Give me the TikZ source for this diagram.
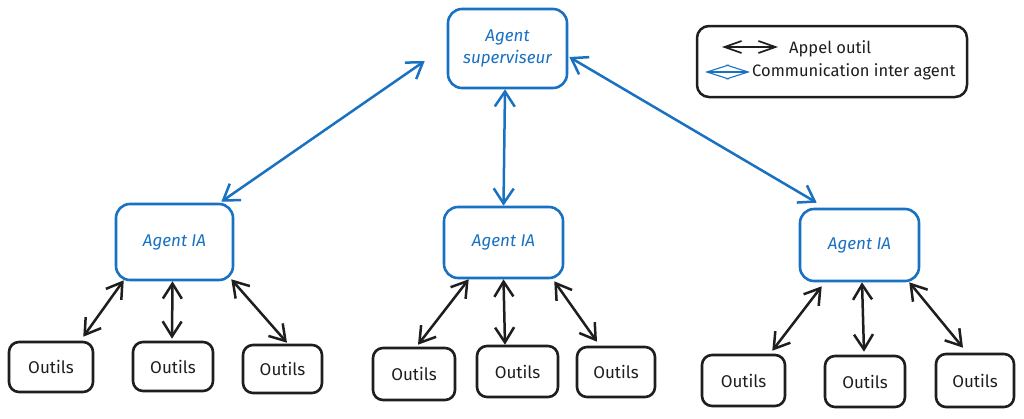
\documentclass[tikz,border=0pt]{standalone}
\usepackage{fontspec}
\setmainfont{Fira Sans}
\usetikzlibrary{arrows.meta,calc}
\definecolor{exblue}{HTML}{1971C2}
\definecolor{exblack}{HTML}{1E1E1E}
\begin{document}
\begin{tikzpicture}[x=1pt,y=-1pt,
  agentbox/.style={draw=exblue,line width=2.6pt,rounded corners=14pt,inner sep=0pt,
    text=exblue,font=\fontsize{17}{22}\selectfont\itshape,align=center},
  toolbox/.style={draw=exblack,line width=2.6pt,rounded corners=10pt,inner sep=0pt,
    text=exblack,font=\fontsize{17}{20}\selectfont},
  toolarrow/.style={draw=exblack,line width=2.5pt,
    {Straight Barb[length=15pt,width=19pt]}-{Straight Barb[length=15pt,width=19pt]}},
  commarrow/.style={draw=exblue,line width=2.5pt,
    {Straight Barb[length=15pt,width=20pt]}-{Straight Barb[length=15pt,width=20pt]}},
  legtext/.style={anchor=west,inner sep=0pt,text=exblack,font=\fontsize{16.5}{20}\selectfont}
]
\useasboundingbox (0,0) rectangle (1024,418);
\fill[white] (0,0) rectangle (1024,418);

% nodes
\node[agentbox,minimum width=119pt,minimum height=79pt] (sup) at (507.5,48.5) {Agent\\superviseur};
\node[agentbox,minimum width=117pt,minimum height=76pt] (aL) at (174.5,242) {Agent IA};
\node[agentbox,minimum width=119pt,minimum height=71pt] (aM) at (503.5,242.5) {Agent IA};
\node[agentbox,minimum width=119pt,minimum height=72pt] (aR) at (859.5,245) {Agent IA};

\node[toolbox,minimum width=84pt,minimum height=50pt] (oL1) at (51,367) {Outils};
\node[toolbox,minimum width=80pt,minimum height=49pt] (oL2) at (173,366.5) {Outils};
\node[toolbox,minimum width=79pt,minimum height=48pt] (oL3) at (282.5,369) {Outils};
\node[toolbox,minimum width=82pt,minimum height=52pt] (oM1) at (414,374) {Outils};
\node[toolbox,minimum width=81pt,minimum height=51pt] (oM2) at (517.5,371.5) {Outils};
\node[toolbox,minimum width=78pt,minimum height=50pt] (oM3) at (616,372) {Outils};
\node[toolbox,minimum width=83pt,minimum height=51pt] (oR1) at (743.5,380.5) {Outils};
\node[toolbox,minimum width=80pt,minimum height=51pt] (oR2) at (865,381.5) {Outils};
\node[toolbox,minimum width=78pt,minimum height=53pt] (oR3) at (975,380.5) {Outils};

% legend
\node[draw=exblack,line width=2.5pt,rounded corners=12pt,minimum width=270pt,minimum height=71pt,inner sep=0pt] (leg) at (832,61.5) {};
\coordinate (la1) at (722,47);
\coordinate (la2) at (778,47);
\coordinate (lb1) at (705,72);
\coordinate (lb2) at (750,72);
\draw[draw=exblack,line width=1.7pt,{Straight Barb[length=17pt,width=12pt]}-{Straight Barb[length=17pt,width=12pt]}] (la1) -- (la2);
\draw[draw=exblue,line width=1.1pt,{Straight Barb[length=22pt,width=14pt]}-{Straight Barb[length=22pt,width=14pt]}] (lb1) -- (lb2);
\node[legtext] (lt1) at (789,49) {Appel outil};
\node[legtext] (lt2) at (752,72) {Communication inter agent};

% communication arrows
\draw[commarrow] ([xshift=-22pt,yshift=-12.5pt]sup.west) -- ([xshift=-13pt,yshift=1pt]aL.north east);
\draw[commarrow] ([xshift=-2.5pt]sup.south) -- (aM.north);
\draw[commarrow] ([xshift=1pt,yshift=-8.5pt]sup.east) -- ([xshift=18pt,yshift=5pt]aR.north west);

% tool arrows
\draw[toolarrow] ([xshift=9pt,yshift=1pt]aL.south west) -- ([xshift=-11pt,yshift=4pt]oL1.north east);
\draw[toolarrow] ([xshift=-2pt]aL.south) -- ([xshift=-1pt,yshift=2pt]oL2.north);
\draw[toolarrow] ([xshift=-3pt,yshift=2pt]aL.south east) -- ([xshift=4.5pt,yshift=1pt]oL3.north);
\draw[toolarrow] ([xshift=26pt]aM.south west) -- ([xshift=4pt,yshift=2pt]oM1.north);
\draw[toolarrow] (aM.south) -- ([xshift=-12.5pt]oM2.north);
\draw[toolarrow] ([xshift=-10pt,yshift=-2pt]aM.south east) -- ([xshift=-19pt,yshift=4pt]oM3.north);
\draw[toolarrow] ([xshift=23pt,yshift=-4pt]aR.south west) -- ([xshift=-14pt,yshift=3pt]oR1.north east);
\draw[toolarrow] ([xshift=2.5pt]aR.south) -- ([xshift=-1pt,yshift=3pt]oR2.north);
\draw[toolarrow] ([xshift=-11pt]aR.south east) -- ([xshift=-12pt,yshift=5pt]oR3.north);
\end{tikzpicture}
\end{document}
